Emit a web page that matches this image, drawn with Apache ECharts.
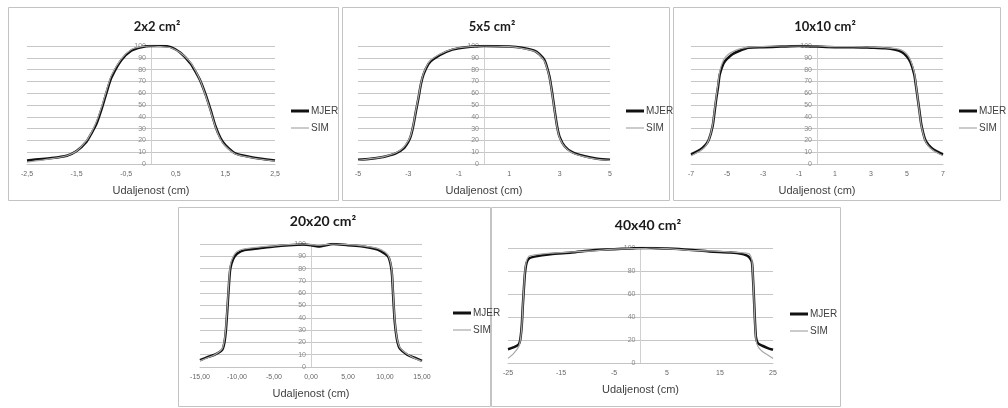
<!DOCTYPE html>
<html><head><meta charset="utf-8">
<script src="https://cdn.jsdelivr.net/npm/echarts@6/dist/echarts.min.js"></script>
<style>html,body{margin:0;padding:0;background:#fff}#c{width:1008px;height:408px}</style>
</head><body><div id="c"></div>
<script>
// ---- data ----
const titles = ['2x2 cm²', '5x5 cm²', '10x10 cm²', '20x20 cm²', '40x40 cm²'];
const seriesNames = ['MJER', 'SIM'];
const axisName = 'Udaljenost (cm)';

const x2x2 = [-2.5,-2.0,-1.7,-1.5,-1.3,-1.2,-1.1,-1.0,-0.9,-0.8,-0.6,-0.4,-0.2,0,0.2,0.4,0.6,0.8,0.9,1.0,1.1,1.2,1.3,1.4,1.5,1.7,2.0,2.5];
const mjer2x2 = [3,5,7,11,19,26,34,46,60,73,88,96,99,100,100,99,94,85,78,70,59,46,32,22,16,9,6,3];
const sim2x2 = [1.5,4.5,7,11,20,27,36,48,62,75,89,97,99.5,100,99.5,98.5,94,86,79,70,58,45,31,21,15,8.5,5.5,2.5];

const x5x5 = [-5,-4.5,-4,-3.5,-3.2,-3,-2.9,-2.8,-2.7,-2.6,-2.5,-2.4,-2.2,-2,-1.5,-1,0,1,1.5,2,2.2,2.4,2.5,2.6,2.7,2.8,2.9,3,3.2,3.5,4,4.5,5];
const mjer5x5 = [3.5,4.5,6,9,13,19,24,33,45,56,68,76,85,89,95,98,100,99.5,98.5,96,93,88,82,74,61,46,32,23,15,10,6.5,4.5,3.5];
const sim5x5 = [3,4.5,6,9.5,14,20,25,34,46,57,69,77,86,90,95.5,98.5,100,99.5,98,95.5,92.5,87,81,73,60,45,31,22,14.5,9.5,6,4,3];

const x10x10 = [-7,-6.5,-6.2,-6,-5.8,-5.7,-5.6,-5.5,-5.4,-5.2,-5,-4.7,-4.3,-3.8,-3,-2,-1,0,1,2,3,3.8,4.3,4.7,5,5.2,5.4,5.5,5.6,5.7,5.8,6,6.2,6.5,7];
const mjer10x10 = [8,12,16,21,32,43,55,65,76,85,89,93,96,98.5,99,99.5,100,99.5,99,99,98.5,98,97,95,91,86,76,66,55,44,33,21,16,12,8];
const sim10x10 = [7,11,15,21,33,45,57,68,79,88,92,95,97.5,99,99.5,100,100,100,99.5,99.5,99,98.5,98,96.5,93,88,78,67,55,43,32,20,15,11,7];

const x20x20 = [-15,-14,-13,-12,-11.7,-11.5,-11.3,-11.1,-10.9,-10.5,-10,-9,-7,-5,-3,-1,0,1,3,5,7,9,10,10.5,10.9,11.1,11.3,11.5,11.7,12,13,14,15];
const mjer20x20 = [5.5,8,10,14,20,30,47,66,80,88,92,95,96.5,98,99,99.5,99,98,100,99,98,95.5,92,89,78,58,38,27,20,15,10,7.5,5];
const sim20x20 = [5,7.5,10,15,22,33,50,69,83,90,94,96,97.5,98.5,99.5,100,99.5,99,100,99.5,98.5,96.5,93.5,90,80,60,40,28,21,16,10.5,7,4.5];

const x40x40 = [-25,-24,-23,-22.7,-22.4,-22.2,-22,-21.8,-21.5,-21,-20,-17,-13,-9,-5,-2,0,2,5,9,13,17,19,20,20.5,21,21.2,21.4,21.6,21.8,22.2,23,24,25];
const mjer40x40 = [12,13.5,16,20,33,50,65,78,87,91,92.5,94.5,96,98,99,99.5,100,100,99.5,98.5,97,96,95,93.5,92,88,76,57,36,22,17,15,13,11.5];
const sim40x40 = [4,8,14,19,32,50,66,80,89,93,94,95.5,96.5,97.5,99,99.5,99.5,100,99.5,98,97.5,96.5,96,95.5,95,90,77,56,34,20,14,10,7,4];

const xTicks2x2 = [-2.5,-1.5,-0.5,0.5,1.5,2.5];
const xTicks5x5 = [-5,-3,-1,1,3,5];
const xTicks10x10 = [-7,-5,-3,-1,1,3,5,7];
const xTicks20x20 = [-15,-10,-5,0,5,10,15];
const xTicks40x40 = [-25,-15,-5,5,15,25];
const xDecimals = [1,0,0,2,0];
const yStep = [10,10,10,10,20];

// ---- layout ----
const panels = [
  {box:[8,7,330,193],  grid:{left:27, top:46, width:248, height:118}, t:[157,20,13], lg:[291,106]},
  {box:[342,7,327,193],grid:{left:358,top:46, width:252, height:118}, t:[492,20,13], lg:[626,106]},
  {box:[673,7,327,193],grid:{left:691,top:46, width:252, height:118}, t:[825,20,13], lg:[959,106]},
  {box:[178,207,312,199],grid:{left:200,top:244,width:222, height:123}, t:[323,214,14], lg:[453,308]},
  {box:[491,207,349,199],grid:{left:508,top:248,width:265, height:115}, t:[648,218,14], lg:[790,309]}
];
const xs = [x2x2,x5x5,x10x10,x20x20,x40x40];
const ms = [mjer2x2,mjer5x5,mjer10x10,mjer20x20,mjer40x40];
const ss = [sim2x2,sim5x5,sim10x10,sim20x20,sim40x40];
const ticks = [xTicks2x2,xTicks5x5,xTicks10x10,xTicks20x20,xTicks40x40];
const lineStyles = [{color:'#111', width:2.5, icon:3}, {color:'#a8a8a8', width:1.2, icon:1.2}];

const FONT = '"Liberation Sans", Arial, sans-serif';
const option = {
  animation:false,
  textStyle:{fontFamily:FONT},
  title:[], legend:[], grid:[], xAxis:[], yAxis:[], series:[], graphic:[]
};
panels.forEach((p,i)=>{
  option.graphic.push({type:'rect', shape:{x:p.box[0]+0.5,y:p.box[1]+0.5,width:p.box[2],height:p.box[3]},
    style:{fill:'none', stroke:'#c3c3c3', lineWidth:1}, z:-1, silent:true});
  option.title.push({text:titles[i], left:p.t[0], top:p.t[1], textAlign:'center', padding:0,
    textStyle:{fontFamily:'Lato, "Open Sans", sans-serif', fontWeight:'bold', fontSize:p.t[2], color:'#1a1a1a'}});
  option.grid.push(Object.assign({containLabel:false}, p.grid));
  const tk = ticks[i], dec = xDecimals[i];
  option.xAxis.push({type:'value', gridIndex:i, min:tk[0], max:tk[tk.length-1],
    axisLine:{show:true, onZero:false, lineStyle:{color:'#c4c4c4'}},
    axisTick:{show:false}, splitLine:{show:false},
    axisLabel:{customValues:tk, fontSize:7, color:'#666', margin:7,
      formatter:v=>Number(v).toFixed(dec).replace('.',',')},
    name:axisName, nameLocation:'middle', nameGap:21,
    nameTextStyle:{fontSize:11, color:'#404040'}});
  option.yAxis.push({type:'value', gridIndex:i, min:0, max:100, interval:yStep[i],
    axisLine:{show:true, onZero:false, lineStyle:{color:'#d0d0d0'}},
    axisTick:{show:false},
    axisLabel:{fontSize:7, color:'#888', margin:5},
    splitLine:{show:true, lineStyle:{color:'#c6c6c6', width:1}}});
  const mk = (arr)=>xs[i].map((x,k)=>[x,arr[k]]);
  [ms[i], ss[i]].forEach((arr,j)=>{
    const ls = lineStyles[j];
    option.series.push({name:seriesNames[j], type:'line', xAxisIndex:i, yAxisIndex:i, data:mk(arr),
      symbol:'none', showSymbol:false, smooth:0.25, color:ls.color,
      lineStyle:{color:ls.color, width:ls.width}, z:2+j});
    option.legend.push({orient:'vertical', left:p.lg[0], top:p.lg[1] + j*17, padding:0,
      itemWidth:18, itemHeight:ls.icon, selectedMode:false,
      data:[{name:seriesNames[j], icon:'rect', itemStyle:{color:ls.color}}],
      textStyle:{fontSize:10, color:'#404040', padding:[0,0,0,-3]}});
  });
});
const chart = echarts.init(document.getElementById('c'), null, {renderer:'canvas'});
chart.setOption(option);
// put each vertical axis (line + labels) at x = 0 of its horizontal value axis
const yUpd = panels.map((p,i)=>{
  const px0 = chart.convertToPixel({xAxisIndex:i}, 0);
  return {offset: -(px0 - p.grid.left)};
});
chart.setOption({yAxis: yUpd});
</script></body></html>
